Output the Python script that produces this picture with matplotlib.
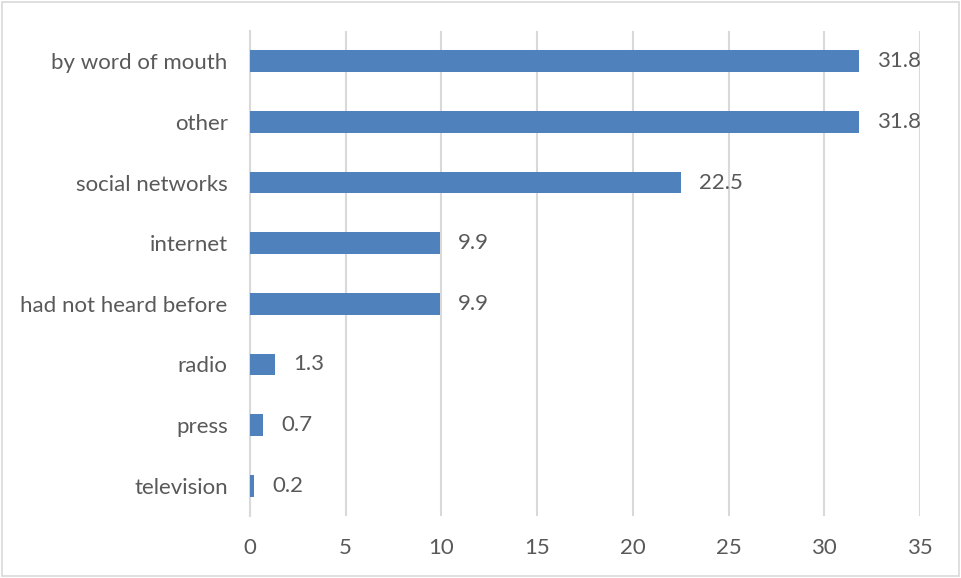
import matplotlib.pyplot as plt
from matplotlib.patches import Rectangle

# share of respondents by source of information
categories = ['by word of mouth', 'other', 'social networks', 'internet',
              'had not heard before', 'radio', 'press', 'television']
values = [31.8, 31.8, 22.5, 9.9, 9.9, 1.3, 0.7, 0.2]
xticks = [0, 5, 10, 15, 20, 25, 30, 35]

plt.rcParams['font.family'] = ['Lato', 'DejaVu Sans']
txt = '#595959'
grid = '#D9D9D9'
fs = 16

fig = plt.figure(figsize=(9.61, 5.78), dpi=100)
ax = fig.add_axes([0.2601, 0.1073, 0.6973, 0.8391])

pos = list(range(len(categories)))[::-1]
ax.barh(pos, values, height=0.36, color='#4F81BD', zorder=3)
for y, v in zip(pos, values):
    ax.text(v + 0.95, y, f'{v:.1f}', va='center', ha='left', fontsize=fs, color=txt)

ax.set_xlim(0, 35)
ax.set_ylim(-0.5, len(categories) - 0.5)
ax.set_xticks(xticks)
ax.set_xticklabels([str(t) for t in xticks])
ax.set_yticks(pos)
ax.set_yticklabels(categories)
ax.tick_params(axis='both', length=0, labelsize=fs, labelcolor=txt)
ax.tick_params(axis='x', pad=16)
ax.tick_params(axis='y', pad=16)
ax.grid(axis='x', color=grid, linewidth=1.5, zorder=0)
for s in ['top', 'right', 'bottom']:
    ax.spines[s].set_visible(False)
ax.spines['left'].set_color(grid)
ax.spines['left'].set_linewidth(1.5)

# thin frame around the whole chart
fig.patches.append(Rectangle((0.002, 0.003), 0.996, 0.994, transform=fig.transFigure,
                             fill=False, edgecolor='#D9D9D9', linewidth=1.2))

fig.savefig('out.png', dpi=100)
